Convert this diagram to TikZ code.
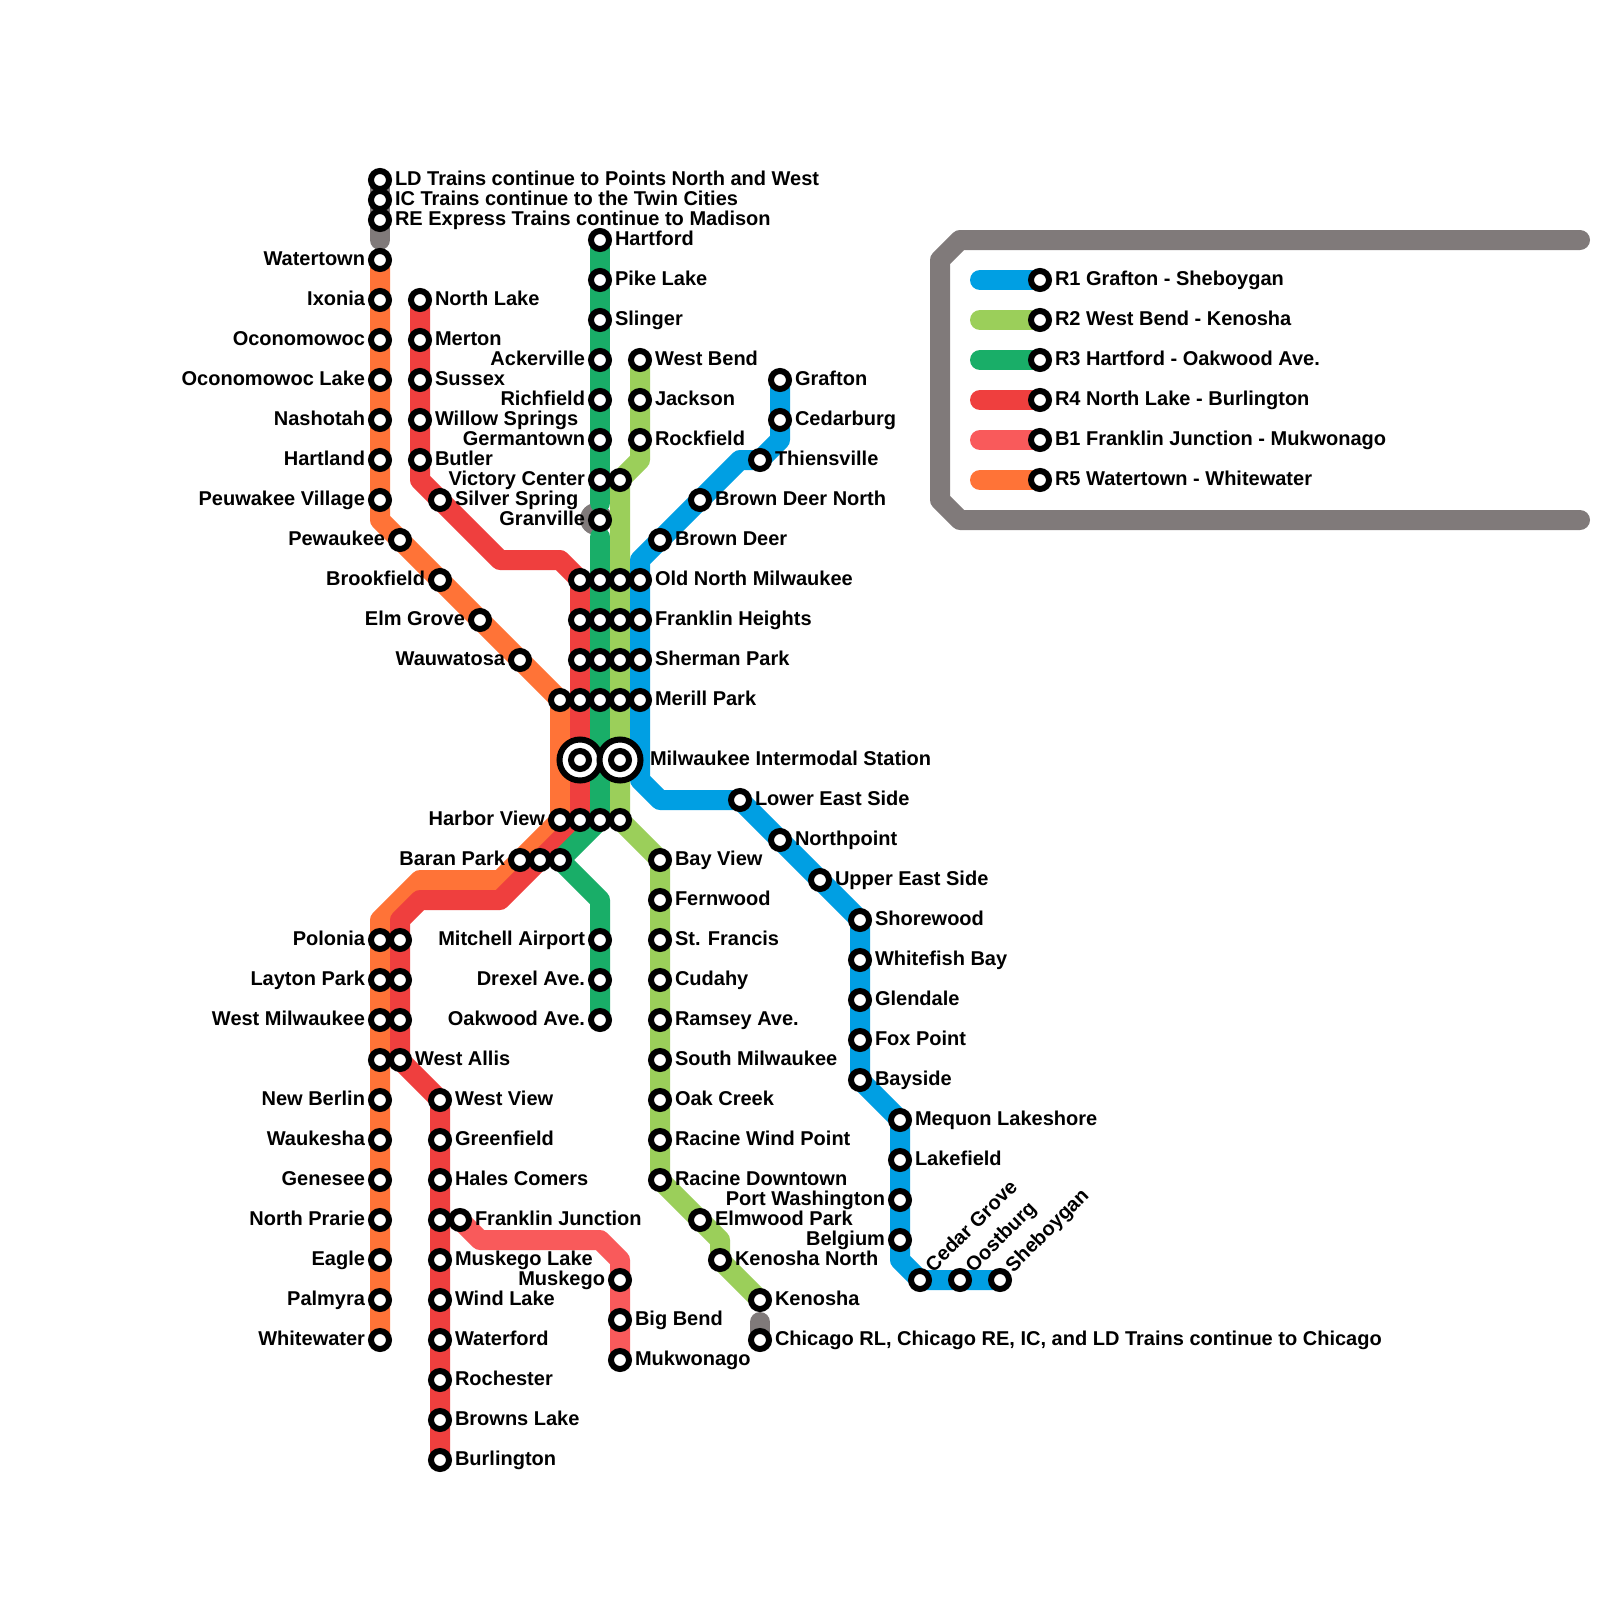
\documentclass[tikz,border=0pt]{standalone}
\usepackage{fontspec}
\setmainfont{Liberation Sans}
\usetikzlibrary{backgrounds}
\definecolor{cblue}{HTML}{009FE3}
\definecolor{clime}{HTML}{9BCF5A}
\definecolor{cgreen}{HTML}{19AE68}
\definecolor{cred}{HTML}{EF3F3E}
\definecolor{cpink}{HTML}{F95A5B}
\definecolor{corange}{HTML}{FF7337}
\definecolor{cgrey}{HTML}{807A7A}
\tikzset{
  stn/.style={circle,draw=black,fill=white,line width=6pt,minimum size=18pt,inner sep=0pt,outer sep=0pt},
  bigstn/.style={circle,draw=black,fill=white,line width=6pt,minimum size=41pt,inner sep=0pt,outer sep=0pt},
  labtext/.style={inner sep=0pt,outer sep=0pt,font=\fontsize{20}{20}\bfseries\selectfont,text=black},
  labR/.style={labtext,anchor=base west},
  labL/.style={labtext,anchor=base east},
  labD/.style={labtext,anchor=base west,rotate=45},
  railline/.style={line width=20pt,line cap=round,line join=round}
}
% station with label to the right / left / diagonal / none
\newcommand\sR[4]{\node[stn] (#1) at (#2,#3) {}; \node[labR] (#1-l) at ({#2+15},{#3+5}) {#4};}
\newcommand\sL[4]{\node[stn] (#1) at (#2,#3) {}; \node[labL] (#1-l) at ({#2-15},{#3+5}) {#4};}
\newcommand\sD[4]{\node[stn] (#1) at (#2,#3) {}; \node[labD] (#1-l) at ({#2+13.5},{#3-7}) {#4};}
\newcommand\sN[3]{\node[stn] (#1) at (#2,#3) {};}
\begin{document}
\begin{tikzpicture}[x=1pt,y=-1pt]
\useasboundingbox (0,0) rectangle (1600,1600);
% --- top connections
\sR{ld}{380}{180}{LD Trains continue to Points North and West}
\sR{ic}{380}{200}{IC Trains continue to the Twin Cities}
\sR{re}{380}{220}{RE Express Trains continue to Madison}
\coordinate (topend) at (380,240);
% --- R5
\sL{wat}{380}{260}{Watertown}
\sL{ixo}{380}{300}{Ixonia}
\sL{oco}{380}{340}{Oconomowoc}
\sL{ocl}{380}{380}{Oconomowoc Lake}
\sL{nas}{380}{420}{Nashotah}
\sL{har}{380}{460}{Hartland}
\sL{peu}{380}{500}{Peuwakee Village}
\coordinate (o1) at (380,520);
\sL{pew}{400}{540}{Pewaukee}
\sL{bro}{440}{580}{Brookfield}
\sL{elm}{480}{620}{Elm Grove}
\sL{wau}{520}{660}{Wauwatosa}
\sN{oj1}{560}{700}
\sL{hvo}{560}{820}{Harbor View}
\sL{bpo}{520}{860}{Baran Park}
\coordinate (o2) at (500,880);
\coordinate (o3) at (420,880);
\coordinate (o4) at (380,920);
\sL{pol}{380}{940}{Polonia}
\sL{lay}{380}{980}{Layton Park}
\sL{wmi}{380}{1020}{West Milwaukee}
\sN{wao}{380}{1060}
\sL{nbe}{380}{1100}{New Berlin}
\sL{wak}{380}{1140}{Waukesha}
\sL{gen}{380}{1180}{Genesee}
\sL{npr}{380}{1220}{North Prarie}
\sL{eag}{380}{1260}{Eagle}
\sL{pal}{380}{1300}{Palmyra}
\sL{whi}{380}{1340}{Whitewater}
% --- R4
\sR{nla}{420}{300}{North Lake}
\sR{mer}{420}{340}{Merton}
\sR{sus}{420}{380}{Sussex}
\sR{wil}{420}{420}{Willow Springs}
\sR{but}{420}{460}{Butler}
\coordinate (r1) at (420,480);
\sR{sil}{440}{500}{Silver Spring}
\coordinate (r2) at (500,560);
\coordinate (r3) at (560,560);
\sN{r4a}{580}{580}
\sN{r4b}{580}{620}
\sN{r4c}{580}{660}
\sN{r4d}{580}{700}
\node[bigstn] (mkeL) at (580,760) {};
\node[stn] (mkeLi) at (580,760) {};
\sN{r4e}{580}{820}
\sN{bpr}{540}{860}
\coordinate (r5) at (500,900);
\coordinate (r6) at (420,900);
\coordinate (r7) at (400,920);
\sN{polr}{400}{940}
\sN{layr}{400}{980}
\sN{wmir}{400}{1020}
\sR{wal}{400}{1060}{West Allis}
\sR{wvi}{440}{1100}{West View}
\sR{gre}{440}{1140}{Greenfield}
\sR{hal}{440}{1180}{Hales Comers}
\sN{frr}{440}{1220}
\sR{mla}{440}{1260}{Muskego Lake}
\sR{wla}{440}{1300}{Wind Lake}
\sR{wfd}{440}{1340}{Waterford}
\sR{roc}{440}{1380}{Rochester}
\sR{bla}{440}{1420}{Browns Lake}
\sR{bur}{440}{1460}{Burlington}
% --- B1
\sR{fra}{460}{1220}{Franklin Junction}
\coordinate (b1) at (480,1240);
\coordinate (b2) at (600,1240);
\coordinate (b3) at (620,1260);
\sL{msk}{620}{1280}{Muskego}
\sR{bbe}{620}{1320}{Big Bend}
\sR{muk}{620}{1360}{Mukwonago}
% --- R3
\sR{hfd}{600}{240}{Hartford}
\sR{pik}{600}{280}{Pike Lake}
\sR{sli}{600}{320}{Slinger}
\sL{ack}{600}{360}{Ackerville}
\sL{ric}{600}{400}{Richfield}
\sL{ger}{600}{440}{Germantown}
\sL{vic}{600}{480}{Victory Center}
\sL{gra}{600}{520}{Granville}
\coordinate (g1) at (600,503);
\coordinate (g2) at (600,537);
\coordinate (gb) at (596,519);
\sN{g4a}{600}{580}
\sN{g4b}{600}{620}
\sN{g4c}{600}{660}
\sN{g4d}{600}{700}
\sN{g4e}{600}{820}
\sN{bpg}{560}{860}
\coordinate (g3) at (600,900);
\sL{mit}{600}{940}{Mitchell Airport}
\sL{dre}{600}{980}{Drexel Ave.}
\sL{oak}{600}{1020}{Oakwood Ave.}
% --- R2
\sR{wbe}{640}{360}{West Bend}
\sR{jac}{640}{400}{Jackson}
\sR{roc2}{640}{440}{Rockfield}
\coordinate (l1) at (640,460);
\sN{vic2}{620}{480}
\sN{l4a}{620}{580}
\sN{l4b}{620}{620}
\sN{l4c}{620}{660}
\sN{l4d}{620}{700}
\node[bigstn] (mkeR) at (620,760) {};
\node[stn] (mkeRi) at (620,760) {};
\sN{l4e}{620}{820}
\sR{bay}{660}{860}{Bay View}
\sR{fer}{660}{900}{Fernwood}
\sR{stf}{660}{940}{St. Francis}
\sR{cud}{660}{980}{Cudahy}
\sR{ram}{660}{1020}{Ramsey Ave.}
\sR{smi}{660}{1060}{South Milwaukee}
\sR{ocr}{660}{1100}{Oak Creek}
\sR{rwp}{660}{1140}{Racine Wind Point}
\sR{rdo}{660}{1180}{Racine Downtown}
\sR{elw}{700}{1220}{Elmwood Park}
\coordinate (l2) at (720,1240);
\sR{kno}{720}{1260}{Kenosha North}
\sR{ken}{760}{1300}{Kenosha}
\coordinate (chitop) at (760,1322);
\sR{chi}{760}{1340}{Chicago RL, Chicago RE, IC, and LD Trains continue to Chicago}
% --- R1
\sR{gft}{780}{380}{Grafton}
\sR{ced}{780}{420}{Cedarburg}
\coordinate (u1) at (780,440);
\sR{thi}{760}{460}{Thiensville}
\coordinate (u2) at (740,460);
\sR{bdn}{700}{500}{Brown Deer North}
\sR{bde}{660}{540}{Brown Deer}
\coordinate (u3) at (640,560);
\sR{onm}{640}{580}{Old North Milwaukee}
\sR{fhe}{640}{620}{Franklin Heights}
\sR{she}{640}{660}{Sherman Park}
\sR{mpk}{640}{700}{Merill Park}
\coordinate (u4) at (640,780);
\coordinate (u5) at (660,800);
\node[labR] (mke-l) at (650,765) {Milwaukee Intermodal Station};
\sR{les}{740}{800}{Lower East Side}
\sR{npt}{780}{840}{Northpoint}
\sR{ues}{820}{880}{Upper East Side}
\sR{shw}{860}{920}{Shorewood}
\sR{wfb}{860}{960}{Whitefish Bay}
\sR{gle}{860}{1000}{Glendale}
\sR{fox}{860}{1040}{Fox Point}
\sR{bys}{860}{1080}{Bayside}
\sR{meq}{900}{1120}{Mequon Lakeshore}
\sR{lkf}{900}{1160}{Lakefield}
\sL{por}{900}{1200}{Port Washington}
\sL{bel}{900}{1240}{Belgium}
\coordinate (u6) at (900,1260);
\sD{cgr}{920}{1280}{Cedar Grove}
\sD{oos}{960}{1280}{Oostburg}
\sD{shb}{1000}{1280}{Sheboygan}
% --- legend
\sR{k1}{1040}{280}{R1 Grafton - Sheboygan}
\sR{k2}{1040}{320}{R2 West Bend - Kenosha}
\sR{k3}{1040}{360}{R3 Hartford - Oakwood Ave.}
\sR{k4}{1040}{400}{R4 North Lake - Burlington}
\sR{k5}{1040}{440}{B1 Franklin Junction - Mukwonago}
\sR{k6}{1040}{480}{R5 Watertown - Whitewater}
\coordinate (a1) at (980,280);
\coordinate (a2) at (980,320);
\coordinate (a3) at (980,360);
\coordinate (a4) at (980,400);
\coordinate (a5) at (980,440);
\coordinate (a6) at (980,480);
\coordinate (f1) at (1580,240);
\coordinate (f2) at (960,240);
\coordinate (f3) at (940,260);
\coordinate (f4) at (940,500);
\coordinate (f5) at (960,520);
\coordinate (f6) at (1580,520);
% --- lines under the stations
\begin{pgfonlayer}{background}
\fill[white] (0,0) rectangle (1600,1600);
\draw[railline,cgrey] (f1) -- (f2) -- (f3) -- (f4) -- (f5) -- (f6);
\draw[railline,cgrey] (ld.center) -- (topend);
\draw[railline,cgrey] (chitop) -- (chi.center);
\fill[cgrey] (gb) circle (16pt);
\draw[railline,corange] (wat.center) -- (peu.center) -- (o1) -- (pew.center) -- (wau.center) -- (oj1.center) -- (hvo.center) -- (bpo.center) -- (o2) -- (o3) -- (o4) -- (pol.center) -- (whi.center);
\draw[railline,cred] (nla.center) -- (but.center) -- (r1) -- (sil.center) -- (r2) -- (r3) -- (r4a.center) -- (r4e.center) -- (bpr.center) -- (r5) -- (r6) -- (r7) -- (polr.center) -- (wal.center) -- (wvi.center) -- (bur.center);
\draw[railline,cpink] (fra.center) -- (b1) -- (b2) -- (b3) -- (msk.center) -- (muk.center);
\draw[railline,cgreen] (hfd.center) -- (g1);
\draw[railline,cgreen] (g2) -- (g4e.center) -- (bpg.center) -- (g3) -- (mit.center) -- (oak.center);
\draw[railline,clime] (wbe.center) -- (roc2.center) -- (l1) -- (vic2.center) -- (l4e.center) -- (bay.center) -- (rdo.center) -- (elw.center) -- (l2) -- (kno.center) -- (ken.center);
\draw[railline,cblue] (gft.center) -- (u1) -- (thi.center) -- (u2) -- (bdn.center) -- (bde.center) -- (u3) -- (onm.center) -- (u4) -- (u5) -- (les.center) -- (npt.center) -- (ues.center) -- (shw.center) -- (bys.center) -- (meq.center) -- (bel.center) -- (u6) -- (cgr.center) -- (shb.center);
\draw[railline,cblue] (a1) -- (k1.center);
\draw[railline,clime] (a2) -- (k2.center);
\draw[railline,cgreen] (a3) -- (k3.center);
\draw[railline,cred] (a4) -- (k4.center);
\draw[railline,cpink] (a5) -- (k5.center);
\draw[railline,corange] (a6) -- (k6.center);
\end{pgfonlayer}
\end{tikzpicture}
\end{document}
